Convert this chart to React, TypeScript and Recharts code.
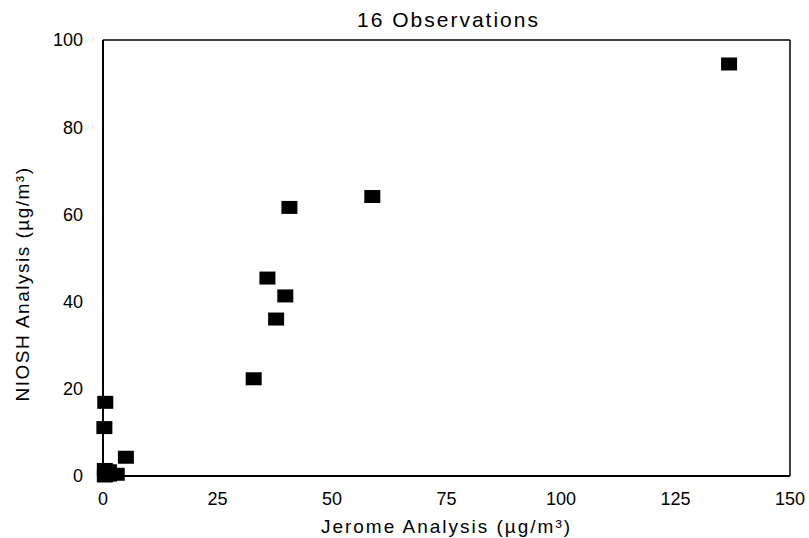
import { ScatterChart, Scatter, XAxis, YAxis, ReferenceLine, Label } from 'recharts';

// Jerome (x) vs NIOSH (y), µg/m³
const jeromeValues = [136.7, 58.8, 40.7, 35.9, 39.8, 37.8, 32.9, 0.5, 0.3, 5.0, 3.0, 0.4, 0.4, 1.3, 0.8, 1.3];
const nioshValues = [94.5, 64.1, 61.6, 45.4, 41.3, 36.0, 22.3, 16.9, 11.1, 4.3, 0.4, 0.0, 1.5, 0.2, 1.0, 1.2];

const xTicks = [0, 25, 50, 75, 100, 125, 150];
const yTicks = [0, 20, 40, 60, 80, 100];

const points = jeromeValues.map((x, i) => ({ x, y: nioshValues[i] }));

const FONT = '"Liberation Sans", Arial, sans-serif';

function SquareMarker(props: any) {
  const { cx, cy } = props;
  return <rect x={cx - 8} y={cy - 6.5} width={16} height={13} fill="#000" />;
}

function YLabel(props: any) {
  const { viewBox } = props;
  const x = viewBox.x + 22;
  const y = viewBox.y + viewBox.height / 2 + 26;
  return (
    <text
      x={x}
      y={y}
      transform={`rotate(-90, ${x}, ${y})`}
      textAnchor="middle"
      dominantBaseline="central"
      fontSize={19}
      fill="#000"
      style={{ fontFamily: FONT, letterSpacing: 1.5 }}
    >
      NIOSH Analysis (µg/m³)
    </text>
  );
}

export default function App() {
  return (
    <div style={{ position: 'absolute', left: 0, top: 0, width: 809, height: 538, background: '#fff', fontFamily: FONT }}>
      <div
        style={{
          position: 'absolute',
          top: 9,
          left: 0,
          width: 897,
          textAlign: 'center',
          fontSize: 21,
          lineHeight: '21px',
          letterSpacing: 2,
          color: '#000',
        }}
      >
        16 Observations
      </div>
      <ScatterChart width={809} height={538} margin={{ top: 40, right: 19, bottom: 0, left: 0 }}>
        <XAxis
          type="number"
          dataKey="x"
          domain={[0, 150]}
          ticks={xTicks}
          height={62}
          tickLine={false}
          tickSize={14}
          tickMargin={2}
          axisLine={{ stroke: '#000', strokeWidth: 2 }}
          tick={{ fontSize: 18, fill: '#000', fontFamily: FONT }}
        >
          <Label
            value="Jerome Analysis (µg/m³)"
            position="insideBottom"
            offset={5}
            style={{ fontSize: 19, fill: '#000', fontFamily: FONT, letterSpacing: 2 }}
          />
        </XAxis>
        <YAxis
          type="number"
          dataKey="y"
          domain={[0, 100]}
          ticks={yTicks}
          width={103}
          tickLine={false}
          tickSize={18}
          tickMargin={2}
          axisLine={{ stroke: '#000', strokeWidth: 2 }}
          tick={{ fontSize: 18, fill: '#000', fontFamily: FONT }}
          label={<YLabel />}
        />
        <ReferenceLine y={100} stroke="#000" strokeWidth={1.5} />
        <ReferenceLine x={150} stroke="#000" strokeWidth={1.5} />
        <Scatter data={points} shape={<SquareMarker />} isAnimationActive={false} />
      </ScatterChart>
    </div>
  );
}
